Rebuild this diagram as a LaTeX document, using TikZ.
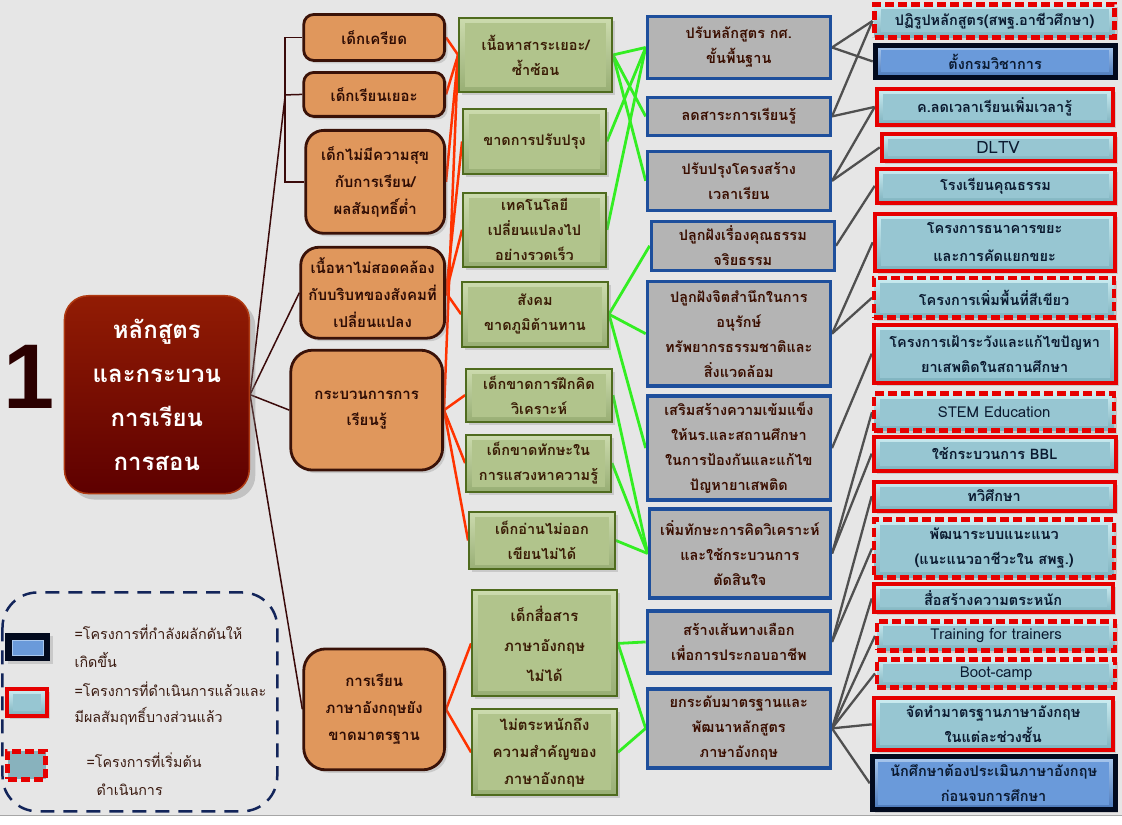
\documentclass[tikz,border=0pt]{standalone}
\usepackage{fontspec}
\setmainfont{Liberation Sans}
\newfontfamily\thai[Script=Thai]{Loma}
\usetikzlibrary{shadows}
\pgfdeclarelayer{back}
\pgfdeclarelayer{lines}
\pgfsetlayers{back,lines,main}
\definecolor{bg}{HTML}{E6E6E6}
\definecolor{orF}{HTML}{E0975C}
\definecolor{orD}{HTML}{3A1208}
\definecolor{orT}{HTML}{2E0C04}
\definecolor{grFace}{HTML}{B1C48C}
\definecolor{grTop}{HTML}{CCDBAE}
\definecolor{grBot}{HTML}{98AE74}
\definecolor{grD}{HTML}{4F6B1E}
\definecolor{grT}{HTML}{3A1C05}
\definecolor{gyF}{HTML}{B4B4B4}
\definecolor{gyD}{HTML}{1E4F9C}
\definecolor{gyT}{HTML}{3A0E00}
\definecolor{ltFace}{HTML}{97C6D2}
\definecolor{ltTop}{HTML}{CDEDF2}
\definecolor{ltBot}{HTML}{7DB1BE}
\definecolor{rd}{HTML}{E60000}
\definecolor{nvFace}{HTML}{6A9ADA}
\definecolor{nvTop}{HTML}{A9C8EE}
\definecolor{nvBot}{HTML}{4A78BA}
\definecolor{nvD}{HTML}{020A1E}
\definecolor{cT}{HTML}{0B1A30}
\definecolor{lnRed}{HTML}{FF3300}
\definecolor{lnGreen}{HTML}{33EE22}
\definecolor{lnGray}{HTML}{505050}
\definecolor{lnBrown}{HTML}{3A0A0A}
\definecolor{rootTop}{HTML}{921C04}
\definecolor{rootBot}{HTML}{5E0000}
\definecolor{rootD}{HTML}{B03A12}
\definecolor{legD}{HTML}{13255A}
\definecolor{legT}{HTML}{3A1A10}
\definecolor{one}{HTML}{2B0000}
\tikzset{
  shd/.style={drop shadow={opacity=0.28, shadow xshift=3bp, shadow yshift=-3bp}},
  base/.style={align=center, inner sep=0pt, font=\thai\bfseries\fontsize{14.5bp}{25bp}\selectfont},
  rootbox/.style={base, rounded corners=24bp, top color=rootTop, bottom color=rootBot, draw=rootD, line width=1.5bp, text=white,
     drop shadow={opacity=0.35, shadow xshift=6bp, shadow yshift=-6bp},
     font=\thai\bfseries\fontsize{24bp}{44bp}\selectfont},
  orbox/.style={base, rounded corners=13bp, fill=orF, draw=orD, line width=2.8bp, text=orT, shd,
     font=\thai\bfseries\fontsize{15bp}{27bp}\selectfont},
  bev/.style n args={3}{top color=#2, bottom color=#3, path picture={\fill[#1] ([shift={(6bp,-5bp)}]path picture bounding box.north west) rectangle ([shift={(-6bp,5bp)}]path picture bounding box.south east);}},
  grbox/.style={base, bev={grFace}{grTop}{grBot}, draw=grD, line width=2bp, text=grT, shd},
  gybox/.style={base, fill=gyF, draw=gyD, line width=3.5bp, text=gyT},
  lt/.style={base, bev={ltFace}{ltTop}{ltBot}, text=cT, shd},
  solidbox/.style={lt, draw=rd, line width=4bp},
  dashbox/.style={lt, draw=rd, line width=4.5bp, dash pattern=on 9bp off 4bp},
  navybox/.style={base, bev={nvFace}{nvTop}{nvBot}, draw=nvD, line width=5bp, text=cT, shd},
  lat/.style={font=\thai\fontsize{15bp}{25bp}\selectfont},
  brownln/.style={draw=lnBrown, line width=1.5bp},
  redln/.style={draw=lnRed, line width=2.5bp},
  greenln/.style={draw=lnGreen, line width=2.8bp},
  grayln/.style={draw=lnGray, line width=2.3bp},
  legtxt/.style={anchor=west, inner sep=0pt, text=legT, font=\thai\fontsize{14.3bp}{20bp}\selectfont},
  numtxt/.style={inner sep=0pt, font=\bfseries\fontsize{92bp}{92bp}\selectfont},
}
\begin{document}
\begin{tikzpicture}[x=1bp,y=-1bp]
\begin{pgfonlayer}{back}
\fill[white] (0,0) rectangle (1122,825);
\fill[bg] (0,0) rectangle (1122,816);
\draw[gray!70, line width=1bp] (0,816.5) -- (1122,816.5);
\end{pgfonlayer}
\useasboundingbox (0,0) rectangle (1122,825);

% number and root
\node[numtxt, text=one] (num) at (29,377) {1};
\node[rootbox, minimum width=185bp, minimum height=198bp] (root) at (156.5,395)
  {หลักสูตร\\และกระบวน\\การเรียน\\การสอน};

% column 2
\node[orbox, rounded corners=10bp, minimum width=141bp, minimum height=46bp] (o1) at (374,37.5) {เด็กเครียด};
\node[orbox, rounded corners=10bp, minimum width=141bp, minimum height=44bp] (o2) at (374,94.5) {เด็กเรียนเยอะ};
\node[orbox, rounded corners=18bp, minimum width=139bp, minimum height=103bp] (o3) at (375,182) {เด็กไม่มีความสุข\\กับการเรียน/\\ผลสัมฤทธิ์ต่ำ};
\node[orbox, rounded corners=18bp, minimum width=144bp, minimum height=91bp] (o4) at (372.5,293) {เนื้อหาไม่สอดคล้อง\\กับบริบทของสังคมที่\\เปลี่ยนแปลง};
\node[orbox, rounded corners=22bp, minimum width=152bp, minimum height=120bp] (o5) at (366.5,410.5) {กระบวนการการ\\เรียนรู้};
\node[orbox, rounded corners=22bp, minimum width=141bp, minimum height=121bp] (o6) at (374,710) {การเรียน\\ภาษาอังกฤษยัง\\ขาดมาตรฐาน};

% column 3
\node[grbox, minimum width=153bp, minimum height=74bp] (g1) at (535.5,55) {เนื้อหาสาระเยอะ/\\ซ้ำซ้อน};
\node[grbox, minimum width=143bp, minimum height=65bp] (g2) at (534.5,141.5) {ขาดการปรับปรุง};
\node[grbox, minimum width=143bp, minimum height=74bp] (g3) at (534.5,230) {เทคโนโลยี\\เปลี่ยนแปลงไป\\อย่างรวดเร็ว};
\node[grbox, minimum width=146bp, minimum height=65bp] (g4) at (535,314.5) {สังคม\\ขาดภูมิต้านทาน};
\node[grbox, minimum width=146bp, minimum height=53bp] (g5) at (539,395.5) {เด็กขาดการฝึกคิด\\วิเคราะห์};
\node[grbox, minimum width=145bp, minimum height=57bp] (g6) at (538.5,463.5) {เด็กขาดทักษะใน\\การแสวงหาความรู้};
\node[grbox, minimum width=146bp, minimum height=58bp] (g7) at (542,541) {เด็กอ่านไม่ออก\\เขียนไม่ได้};
\node[grbox, minimum width=145bp, minimum height=106bp, font=\thai\bfseries\fontsize{15bp}{30bp}\selectfont] (g8) at (544.5,644) {เด็กสื่อสาร\\ภาษาอังกฤษ\\ไม่ได้};
\node[grbox, minimum width=145bp, minimum height=86bp, font=\thai\bfseries\fontsize{15bp}{27bp}\selectfont] (g9) at (544.5,753) {ไม่ตระหนักถึง\\ความสำคัญของ\\ภาษาอังกฤษ};

% column 4
\node[gybox, minimum width=183bp, minimum height=62bp] (b1) at (739,47.5) {ปรับหลักสูตร กศ.\\ขั้นพื้นฐาน};
\node[gybox, minimum width=183bp, minimum height=38bp] (b2) at (739,116.5) {ลดสาระการเรียนรู้};
\node[gybox, minimum width=183bp, minimum height=59bp] (b3) at (739,181) {ปรับปรุงโครงสร้าง\\เวลาเรียน};
\node[gybox, minimum width=183bp, minimum height=49bp] (b4) at (743,246) {ปลูกฝังเรื่องคุณธรรม\\จริยธรรม};
\node[gybox, minimum width=183bp, minimum height=105bp] (b5) at (739,334) {ปลูกฝังจิตสำนึกในการ\\อนุรักษ์\\ทรัพยากรธรรมชาติและ\\สิ่งแวดล้อม};
\node[gybox, minimum width=183bp, minimum height=104bp] (b6) at (739,448.5) {เสริมสร้างความเข้มแข็ง\\ให้นร.และสถานศึกษา\\ในการป้องกันและแก้ไข\\ปัญหายาเสพติด};
\node[gybox, minimum width=181bp, minimum height=89bp] (b7) at (740,554) {เพิ่มทักษะการคิดวิเคราะห์\\และใช้กระบวนการ\\ตัดสินใจ};
\node[gybox, minimum width=183bp, minimum height=62bp] (b8) at (739,642.5) {สร้างเส้นทางเลือก\\เพื่อการประกอบอาชีพ};
\node[gybox, minimum width=183bp, minimum height=79bp] (b9) at (739,729) {ยกระดับมาตรฐานและ\\พัฒนาหลักสูตร\\ภาษาอังกฤษ};

% column 5
\node[dashbox, minimum width=240bp, minimum height=33bp] (c1) at (995,21) {ปฏิรูปหลักสูตร(สพฐ.อาชีวศึกษา)};
\node[navybox, minimum width=240bp, minimum height=32bp] (c2) at (995.5,61.5) {ตั้งกรมวิชาการ};
\node[solidbox, minimum width=236bp, minimum height=36bp] (c3) at (995,107) {ค.ลดเวลาเรียนเพิ่มเวลารู้};
\node[solidbox, lat, minimum width=233bp, minimum height=27bp, font=\thai\fontsize{17bp}{25bp}\selectfont] (c4) at (998.5,147.5) {DLTV};
\node[solidbox, minimum width=238bp, minimum height=34bp] (c5) at (996,186) {โรงเรียนคุณธรรม};
\node[solidbox, minimum width=240bp, minimum height=57bp, font=\thai\bfseries\fontsize{14.5bp}{28bp}\selectfont] (c6) at (995,242.5) {โครงการธนาคารขยะ\\และการคัดแยกขยะ};
\node[dashbox, minimum width=240bp, minimum height=40bp] (c7) at (994.5,298) {โครงการเพิ่มพื้นที่สีเขียว};
\node[solidbox, minimum width=242bp, minimum height=58bp] (c8) at (995,354) {โครงการเฝ้าระวังและแก้ไขปัญหา\\ยาเสพติดในสถานศึกษา};
\node[dashbox, lat, minimum width=240bp, minimum height=37bp] (c9) at (994.5,412.5) {STEM Education};
\node[solidbox, minimum width=242bp, minimum height=34bp] (c10) at (995,454) {ใช้กระบวนการ BBL};
\node[solidbox, minimum width=241bp, minimum height=29bp] (c11) at (994.5,496.5) {ทวิศึกษา};
\node[dashbox, minimum width=240bp, minimum height=58bp] (c12) at (994.5,549) {พัฒนาระบบแนะแนว\\(แนะแนวอาชีวะใน สพฐ.)};
\node[solidbox, minimum width=239bp, minimum height=28bp] (c13) at (993.5,599) {สื่อสร้างความตระหนัก};
\node[dashbox, lat, minimum width=238bp, minimum height=29bp] (c14) at (996.5,636.5) {Training for trainers};
\node[dashbox, lat, minimum width=238bp, minimum height=28bp] (c15) at (996.5,674) {Boot-camp};
\node[solidbox, minimum width=239bp, minimum height=52bp] (c16) at (993.5,725) {จัดทำมาตรฐานภาษาอังกฤษ\\ในแต่ละช่วงชั้น};
\node[navybox, minimum width=243bp, minimum height=53bp] (c17) at (994,784) {นักศึกษาต้องประเมินภาษาอังกฤษ\\ก่อนจบการศึกษา};

% connectors
\begin{pgfonlayer}{lines}
\coordinate (brk) at (285,95);
\draw[brownln] (o1.west) -- (o1.west -| brk) -- (o3.west -| brk) -- (o3.west);
\draw[brownln] (o2.west) -- (brk);
\draw[brownln] (root.east) -- (brk);
\draw[brownln] (root.east) -- (o4.west);
\draw[brownln] (root.east) -- (o5.west);
\draw[brownln] (root.east) -- (o6.west);

\foreach \a/\b in {o1/g1, o2/g1, o3/g1, o5/g1, o4/g2, o4/g3, o4/g4, o5/g5, o5/g6, o5/g7, o6/g8, o6/g9}
  \draw[redln] (\a.east) -- (\b.west);

\foreach \a/\b in {g1/b1, g1/b2, g1/b3, g2/b1, g3/b1, g4/b4, g4/b5, g4/b6, g5/b7, g6/b7, g7/b7, g8/b8, g8/b9, g9/b9}
  \draw[greenln] (\a.east) -- (\b.west);

\foreach \a/\b in {b1/c1, b1/c2, b2/c1, b2/c3, b3/c3, b3/c4, b4/c5, b5/c6, b5/c7, b6/c8, b7/c9, b7/c10, b8/c11, b8/c12, b9/c13, b9/c14, b9/c15, b9/c16, b9/c17}
  \draw[grayln] (\a.east) -- (\b.west);
\end{pgfonlayer}

% legend
\draw[legD, line width=2.5bp, dash pattern=on 14bp off 9bp, rounded corners=35bp] (2,593) rectangle (277,812);
\node[fill=nvD, minimum width=45bp, minimum height=28bp, inner sep=0pt, shd] (k1) at (27.5,648) {};
\node[fill=nvFace, draw=nvTop, line width=0.8bp, minimum width=31bp, minimum height=15bp, inner sep=0pt] (k1i) at (k1.center) {};
\node[bev={ltFace}{ltTop}{ltBot}, draw=rd, line width=4bp, minimum width=40bp, minimum height=27bp, inner sep=0pt, shd] (k2) at (27,703) {};
\node[fill=ltFace!90!black, draw=rd, line width=5bp, dash pattern=on 9bp off 4bp, minimum width=38bp, minimum height=28bp, inner sep=0pt] (k3) at (26.5,766) {};
\node[legtxt] (t1) at (74,633) {=โครงการที่กำลังผลักดันให้};
\node[legtxt] (t2) at (74,661) {เกิดขึ้น};
\node[legtxt] (t3) at (74,690) {=โครงการที่ดำเนินการแล้วและ};
\node[legtxt] (t4) at (74,717) {มีผลสัมฤทธิ์บางส่วนแล้ว};
\node[legtxt] (t5) at (86,761) {=โครงการที่เริ่มต้น};
\node[legtxt] (t6) at (96,790) {ดำเนินการ};
\end{tikzpicture}
\end{document}
